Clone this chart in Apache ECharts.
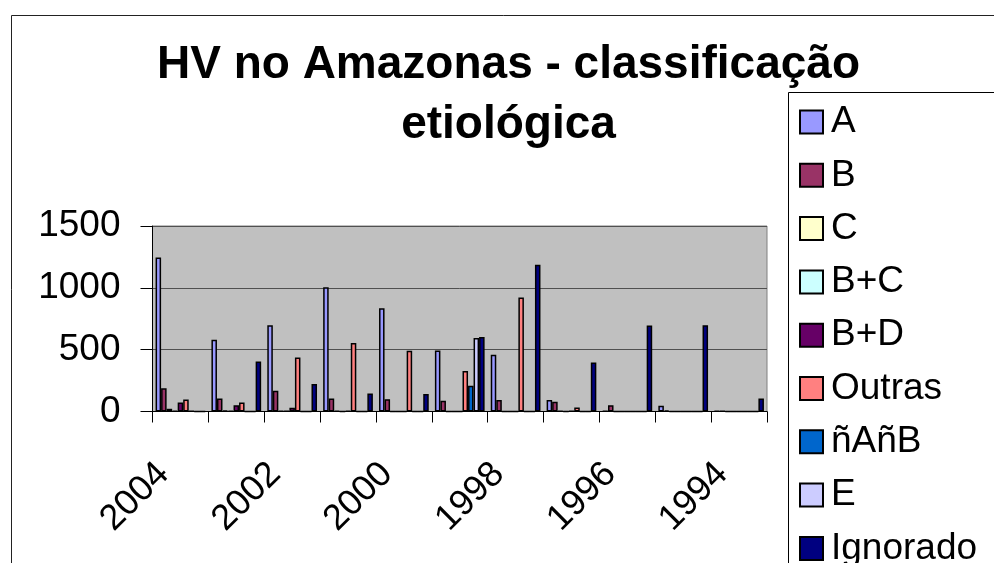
<!DOCTYPE html>
<html>
<head>
<meta charset="utf-8">
<script src="https://cdn.jsdelivr.net/npm/echarts@6/dist/echarts.min.js"></script>
<style>
html,body{margin:0;padding:0;background:#fff;}
#chart{width:994px;height:563px;}
</style>
</head>
<body>
<div id="chart"></div>
<script>
const categories = ['2004','2003','2002','2001','2000','1999','1998','1997','1996','1995','1994'];
const seriesNames = ['A','B','C','B+C','B+D','Outras','ñAñB','E','Ignorado'];
const valA        = [1245, 580, 698, 1005, 834, 494, 459, 92, 3, 46, 3];
const valB        = [187, 106, 168, 106, 100, 86, 92, 78, 51, 10, 3];
const valC        = [22, 8, 5, 5, 0, 0, 0, 5, 0, 0, 0];
const valBC       = [5, 5, 3, 0, 0, 0, 0, 0, 0, 0, 0];
const valBD       = [73, 51, 30, 5, 0, 0, 0, 3, 0, 0, 0];
const valOutras   = [98, 73, 437, 554, 491, 328, 921, 33, 0, 0, 0];
const valNANB     = [3, 0, 0, 0, 0, 209, 0, 0, 0, 0, 0];
const valE        = [0, 0, 0, 0, 0, 595, 0, 0, 0, 0, 0];
const valIgnorado = [0, 404, 222, 145, 141, 603, 1187, 396, 695, 698, 106];
const yTicks = [0, 500, 1000, 1500];

const colors = ['#9999FF','#993366','#FFFFCC','#CCFFFF','#660066','#FF8080','#0066CC','#CCCCFF','#000080'];
const allValues = [valA, valB, valC, valBC, valBD, valOutras, valNANB, valE, valIgnorado];
const FONT = '"Liberation Sans", Arial, sans-serif';

const chart = echarts.init(document.getElementById('chart'), null, {renderer: 'canvas'});
chart.setOption({
  backgroundColor: '#ffffff',
  animation: false,
  color: colors,
  title: {
    text: 'HV no Amazonas - classificação\netiológica',
    left: 508.5,
    top: 35,
    textAlign: 'center',
    padding: 0,
    textStyle: {fontFamily: FONT, fontSize: 46, fontWeight: 'bold', color: '#000', lineHeight: 60}
  },
  graphic: [
    {type: 'rect', z: -10, shape: {x: 11.5, y: 15.5, width: 2000, height: 2000},
     style: {fill: 'none', stroke: '#222', lineWidth: 1}},
    {type: 'rect', z: 1, shape: {x: 788.5, y: 92.5, width: 500, height: 1000},
     style: {fill: '#fff', stroke: '#000', lineWidth: 1}}
  ],
  legend: {
    orient: 'vertical',
    left: 799,
    top: 102,
    height: 1000,
    padding: 0,
    itemWidth: 23,
    itemHeight: 23,
    itemGap: 13.3,
    icon: 'rect',
    z: 5,
    data: seriesNames,
    itemStyle: {borderColor: '#000', borderWidth: 2},
    textStyle: {fontFamily: FONT, fontSize: 37, color: '#000', lineHeight: 40, padding: [0, 0, 0, 3]}
  },
  grid: {
    left: 152.5, top: 226, right: 227, bottom: 151.5,
    containLabel: false,
    outerBoundsMode: 'none',
    show: true,
    backgroundColor: '#C0C0C0',
    borderColor: '#808080',
    borderWidth: 1
  },
  xAxis: {
    type: 'category',
    data: categories,
    boundaryGap: true,
    axisLine: {show: true, lineStyle: {color: '#000', width: 1}},
    axisTick: {show: true, interval: 0, length: 11, alignWithLabel: false, lineStyle: {color: '#000'}},
    axisLabel: {
      interval: 1,
      rotate: 45,
      margin: 40,
      padding: [0, 24, 0, 0],
      fontFamily: FONT, fontSize: 36, color: '#000'
    },
    splitLine: {show: false}
  },
  yAxis: {
    type: 'value',
    min: yTicks[0],
    max: yTicks[yTicks.length - 1],
    interval: yTicks[1] - yTicks[0],
    axisLine: {show: true, lineStyle: {color: '#000', width: 1}},
    axisTick: {show: true, length: 12, lineStyle: {color: '#000'}},
    axisLabel: {margin: 32, fontFamily: FONT, fontSize: 37, color: '#000', formatter: (v) => String(v)},
    splitLine: {show: true, lineStyle: {color: '#505050', width: 1}}
  },
  series: seriesNames.map((name, i) => ({
    name: name,
    type: 'bar',
    data: allValues[i],
    barGap: '0%',
    barCategoryGap: '11%',
    itemStyle: {color: colors[i], borderColor: '#000', borderWidth: 1.5}
  }))
});
</script>
</body>
</html>
